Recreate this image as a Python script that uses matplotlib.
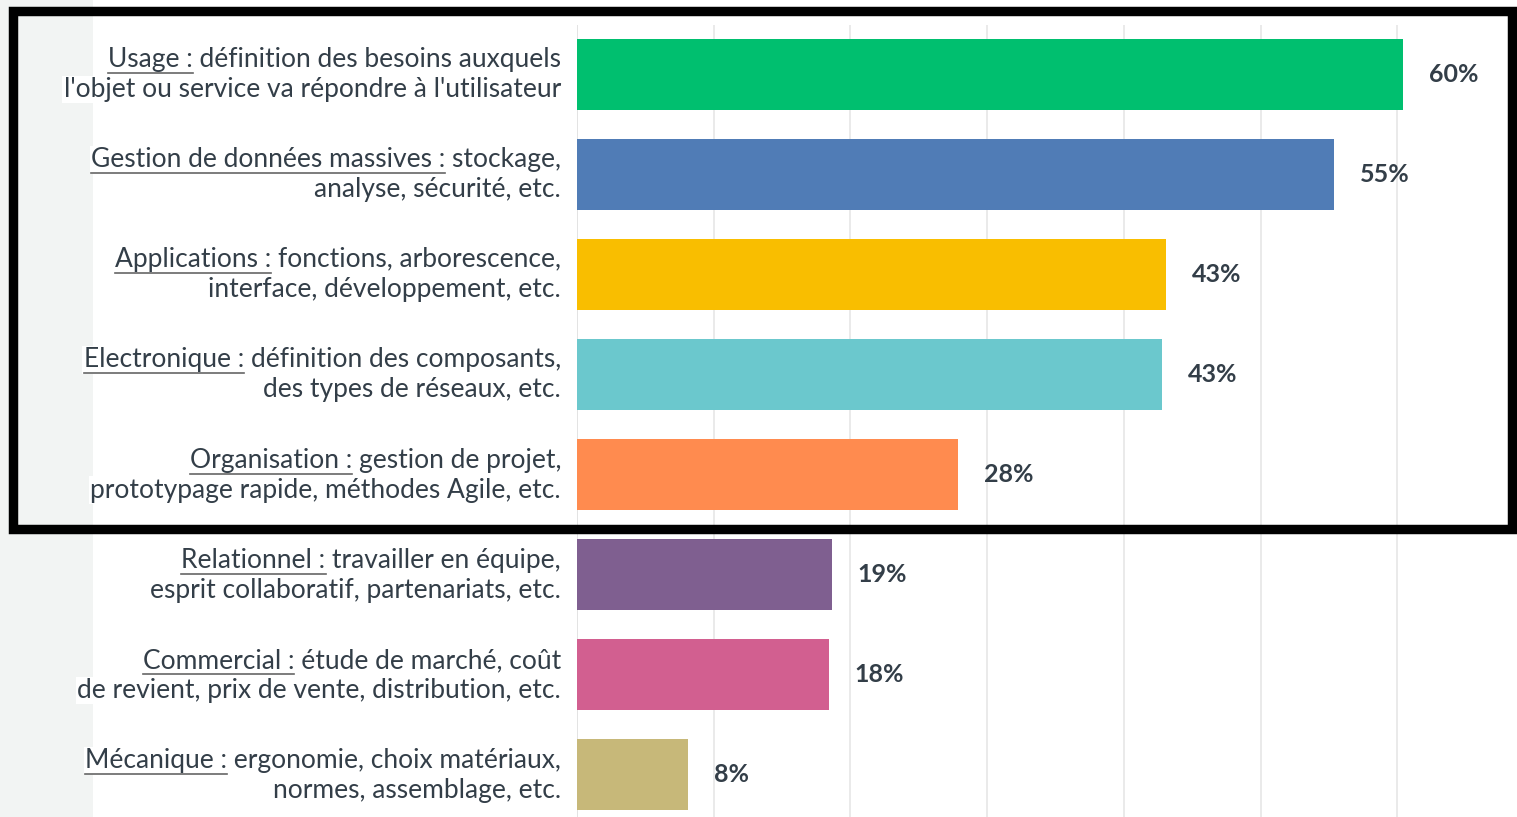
import matplotlib.pyplot as plt
from matplotlib.patches import Rectangle
from matplotlib.lines import Line2D

# Data
names = ["Usage :", "Gestion de données massives :", "Applications :", "Electronique :",
         "Organisation :", "Relationnel :", "Commercial :", "Mécanique :"]
first_rest = ["définition des besoins auxquels", "stockage,", "fonctions, arborescence,",
              "définition des composants,", "gestion de projet,", "travailler en équipe,",
              "étude de marché, coût", "ergonomie, choix matériaux,"]
second_lines = ["l'objet ou service va répondre à l'utilisateur", "analyse, sécurité, etc.",
                "interface, développement, etc.", "des types de réseaux, etc.",
                "prototypage rapide, méthodes Agile, etc.", "esprit collaboratif, partenariats, etc.",
                "de revient, prix de vente, distribution, etc.", "normes, assemblage, etc."]
values = [60.4, 55.4, 43.1, 42.8, 27.9, 18.65, 18.4, 8.1]
value_labels = ["60%", "55%", "43%", "43%", "28%", "19%", "18%", "8%"]
colors = ["#00BF6F", "#507CB6", "#F9BE00", "#6BC8CD", "#FF8B4F", "#7F5F90", "#D25F90", "#C7B879"]

W, H = 1517, 817
text_color = "#333e48"
font = "Lato"
label_size = 19

fig = plt.figure(figsize=(W / 100, H / 100), dpi=100)
fig.patch.set_facecolor("white")

# light gray strip on the left
fig.patches.append(Rectangle((0, 0), 93 / W, 1, transform=fig.transFigure,
                             facecolor="#f2f4f3", edgecolor="none", zorder=0))

ax = fig.add_axes([577 / W, 0, (W - 577) / W, (H - 25) / H])
ax.set_facecolor("none")
pos = list(range(len(values)))
ax.barh(pos, values, height=0.71, color=colors, zorder=3)
ax.set_ylim(7.42, -0.49)
ax.set_xlim(0, (W - 577) / 13.67)
ax.set_xticks(range(0, 70, 10))
ax.grid(axis="x", color="#e6e6e6", linewidth=1.2, zorder=0)
ax.tick_params(left=False, bottom=False, labelleft=False, labelbottom=False)
for s in ax.spines.values():
    s.set_visible(False)
ax.axvline(0, color="#d0d0d0", linewidth=1.2, zorder=1)

for p, v, lab in zip(pos, values, value_labels):
    ax.annotate(lab, (v, p), xytext=(18.7, 0), textcoords="offset points",
                ha="left", va="center", fontsize=18, fontweight="bold",
                family=font, color=text_color)

# category labels, two lines each, first part underlined
fig.canvas.draw()
renderer = fig.canvas.get_renderer()
right_x = 561 / W
for p, nm, r1, l2 in zip(pos, names, first_rest, second_lines):
    yc = ax.transData.transform((0, p))[1]
    bb = dict(facecolor="white", edgecolor="none", pad=1)
    t1 = fig.text(right_x, (yc + 7) / H, nm + " " + r1, ha="right", va="baseline",
                  fontsize=label_size, family=font, color=text_color, bbox=bb, zorder=3)
    fig.text(right_x, (yc - 23) / H, l2, ha="right", va="baseline",
             fontsize=label_size, family=font, color=text_color, bbox=bb, zorder=3)
    tmp = fig.text(0, 0, nm, fontsize=label_size, family=font)
    w_name = tmp.get_window_extent(renderer).width
    tmp.remove()
    x0 = t1.get_window_extent(renderer).x0
    yline = yc + 1
    fig.add_artist(Line2D([x0 / W, (x0 + w_name) / W], [yline / H, yline / H],
                          color="#666666", linewidth=1.2, transform=fig.transFigure,
                          zorder=6))

# black frame around the top five items
frame = Rectangle((12.5 / W, (H - 529) / H), (1512 - 12.5) / W, (529 - 10.5) / H,
                  transform=fig.transFigure, fill=False, edgecolor="black",
                  linewidth=6.8, zorder=10)
fig.patches.append(frame)

fig.savefig("out.png", dpi=100)
